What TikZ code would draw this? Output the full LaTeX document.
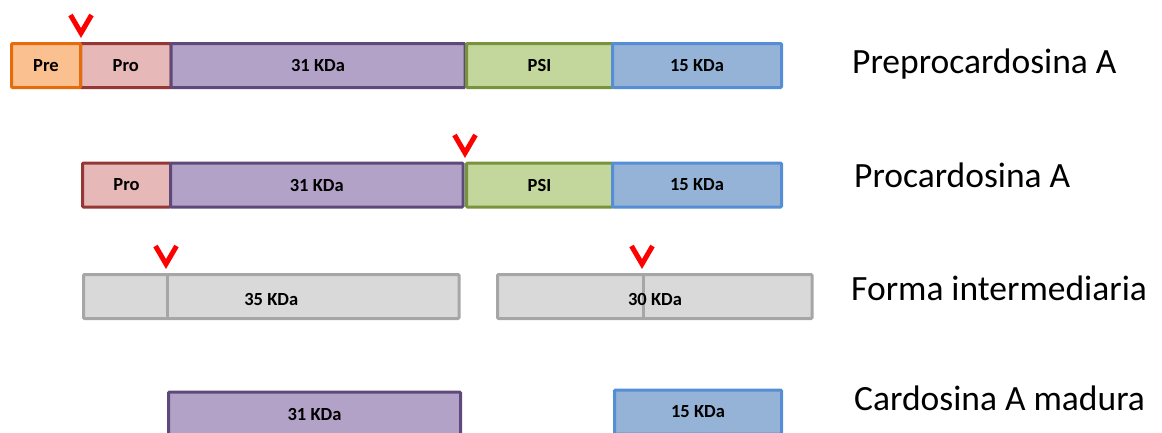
\documentclass[tikz,border=0pt]{standalone}
\usepackage{fontspec}
\setmainfont{Carlito}
\definecolor{preF}{HTML}{FAC090}\definecolor{preD}{HTML}{E46C0A}
\definecolor{proF}{HTML}{E6B9B8}\definecolor{proD}{HTML}{953735}
\definecolor{kaF}{HTML}{B3A2C7}\definecolor{kaD}{HTML}{5F497A}
\definecolor{psiF}{HTML}{C3D69B}\definecolor{psiD}{HTML}{77933C}
\definecolor{kbF}{HTML}{95B3D7}\definecolor{kbD}{HTML}{558ED5}
\definecolor{grF}{HTML}{D9D9D9}\definecolor{grD}{HTML}{A6A6A6}
\definecolor{cutred}{HTML}{FF0000}
\begin{document}
\begin{tikzpicture}[x=1pt,y=-1pt,
  segfont/.style={font=\fontsize{18.5}{18.5}\selectfont\bfseries},
  seg/.style={rectangle, line width=3pt, inner sep=0pt, rounded corners=1pt,
    minimum height=44pt, segfont},
  segpre/.style={seg, draw=preD, fill=preF},
  segpro/.style={seg, draw=proD, fill=proF},
  segka/.style={seg, draw=kaD, fill=kaF},
  segpsi/.style={seg, draw=psiD, fill=psiF},
  segkb/.style={seg, draw=kbD, fill=kbF},
  seggr/.style={seg, draw=grD, fill=grF},
  divline/.style={draw=grD, line width=3pt},
  cutmark/.style={draw=cutred, line width=5pt, miter limit=10},
  rowlabel/.style={anchor=base west, inner sep=0pt, font=\fontsize{35.5}{35.5}\selectfont}]
\useasboundingbox (0,0) rectangle (1162,432);
% Row 1
\node[segpro, minimum width=90.5pt] (pro1) at (125.75,65.5) {Pro};
\node[segpre, minimum width=69pt] (pre1) at (46,65.5) {Pre};
\node[segka, minimum width=294pt] (ka1) at (318,65.5) {31 KDa};
\node[segpsi, minimum width=146pt] (psi1) at (539.5,65.5) {PSI};
\node[segkb, minimum width=169pt] (kb1) at (697,65.5) {15 KDa};
\draw[cutmark] (70.5,15) -- (81,33) -- (91.5,15);
\node[rowlabel] (l1) at (852,73) {Preprocardosina A};
% Row 2
\node[segpro, minimum width=88pt] (pro2) at (126.5,185) {Pro};
\node[segka, minimum width=292.5pt] (ka2) at (316.75,185) {31 KDa};
\node[segpsi, minimum width=146pt] (psi2) at (539.5,185) {PSI};
\node[segkb, minimum width=169pt] (kb2) at (697,185) {15 KDa};
\draw[cutmark] (454.5,135) -- (465,153) -- (475.5,135);
\node[rowlabel] (l2) at (854,187) {Procardosina A};
% Row 3
\node[seggr, minimum width=375.5pt] (gr1) at (271.25,296.5) {};
\draw[divline] (gr1.north -| 167,0) -- (gr1.south -| 167,0);
\node[segfont] (t35) at (271.25,299) {35 KDa};
\node[seggr, minimum width=314.5pt] (gr2) at (654.75,296.5) {};
\draw[divline] (gr2.north -| 643,0) -- (gr2.south -| 643,0);
\node[segfont] (t30) at (655,299) {30 KDa};
\draw[cutmark] (155.5,246) -- (166,264) -- (176.5,246);
\draw[cutmark] (631.5,246) -- (642,264) -- (652.5,246);
\node[rowlabel] (l3) at (851,300) {Forma intermediaria};
% Row 4
\node[segka, minimum width=292pt] (ka4) at (314.5,414) {31 KDa};
\node[segkb, minimum width=167pt] (kb4) at (698,412) {15 KDa};
\node[rowlabel] (l4) at (854,410) {Cardosina A madura};
\end{tikzpicture}
\end{document}
